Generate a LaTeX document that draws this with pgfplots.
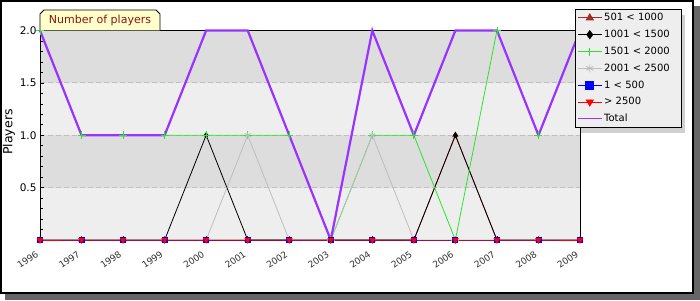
\documentclass[border=0pt]{standalone}
\usepackage{fontspec}
\setmainfont{DejaVu Sans}
\usepackage{pgfplots}
\pgfplotsset{compat=1.18}
\usetikzlibrary{calc}

\definecolor{cBrown}{RGB}{165,42,42}
\definecolor{cGreen}{RGB}{40,230,40}
\definecolor{cGray}{RGB}{190,190,190}
\definecolor{cPurple}{RGB}{153,51,255}
\definecolor{cRed}{RGB}{255,0,0}
\definecolor{cBlue}{RGB}{0,0,255}
\definecolor{bandLight}{RGB}{238,238,238}
\definecolor{bandDark}{RGB}{221,221,221}
\definecolor{titleFill}{RGB}{255,255,204}
\definecolor{titleText}{RGB}{140,20,20}

\begin{document}
\begin{tikzpicture}[x=1pt,y=1pt]
\fill[black!60] (5,0) rectangle (700,294);
\draw[line width=2pt, fill=white] (1,7) rectangle (693,299);
% legend shadow
\fill[black!18] (581,167) rectangle (685,285);
\begin{axis}[
  at={(40pt,60pt)}, anchor=south west,
  scale only axis, width=540pt, height=209.5pt,
  xmin=1996, xmax=2009, ymin=0, ymax=2,
  clip=false,
  axis background/.style={fill=bandLight, path picture={
    \fill[bandDark] ($(path picture bounding box.south west)!0.75!(path picture bounding box.north west)$) rectangle (path picture bounding box.north east);
    \fill[bandDark] ($(path picture bounding box.south west)!0.25!(path picture bounding box.north west)$) rectangle ($(path picture bounding box.south east)!0.5!(path picture bounding box.north east)$);
  }},
  axis line style={black, line width=0.8pt},
  xtick={1996,1997,1998,1999,2000,2001,2002,2003,2004,2005,2006,2007,2008,2009},
  xticklabels={1996,1997,1998,1999,2000,2001,2002,2003,2004,2005,2006,2007,2008,2009},
  ytick={0,0.5,1,1.5,2},
  yticklabels={,0.5,1.0,1.5,2.0},
  minor y tick num=4,
  xtick pos=bottom, ytick pos=left,
  tick align=inside,
  major tick length=4pt, minor tick length=3pt,
  tick style={black, line width=0.6pt},
  ymajorgrids,
  major grid style={dash pattern=on 5pt off 3pt, cGray, line width=0.8pt},
  yticklabel style={font=\fontsize{10.5}{12}\selectfont},
  xticklabel shift=11pt,
  xticklabel style={font=\fontsize{9}{10}\selectfont, text=black!80, rotate=35, anchor=east},
  legend style={at={(rel axis cs:0.9907,1.1026)}, anchor=north west,
    fill=bandLight, draw=black, line width=0.8pt,
    font=\fontsize{10}{12}\selectfont,
    inner sep=2pt, row sep=3.9pt},
  legend cell align=left,
  legend image code/.code={\draw[mark repeat=2, mark phase=2, #1, line width=0.8pt, mark size=4pt] plot coordinates {(0pt,0pt) (12pt,0pt) (24pt,0pt)};},
]
\addplot[cBrown, line width=0.8pt, mark=triangle*, mark size=3pt, mark options={fill=cBrown}] coordinates {
(1996,0) (1997,0) (1998,0) (1999,0) (2000,0) (2001,0) (2002,0) (2003,0) (2004,0) (2005,0) (2006,1) (2007,0) (2008,0) (2009,0)};
\addlegendentry{501 < 1000}
\addplot[black, line width=0.8pt, mark=diamond*, mark size=2.5pt, mark options={fill=black}] coordinates {
(1996,0) (1997,0) (1998,0) (1999,0) (2000,1) (2001,0) (2002,0) (2003,0) (2004,0) (2005,0) (2006,1) (2007,0) (2008,0) (2009,0)};
\addlegendentry{1001 < 1500}
\addplot[cGreen, line width=0.8pt, mark=+, mark size=4pt] coordinates {
(1996,2) (1997,1) (1998,1) (1999,1) (2000,1) (2001,1) (2002,1) (2003,0) (2004,1) (2005,1) (2006,0) (2007,2) (2008,1) (2009,2)};
\addlegendentry{1501 < 2000}
\addplot[cGray, line width=0.8pt, mark=asterisk, mark size=3.5pt] coordinates {
(1996,0) (1997,0) (1998,0) (1999,0) (2000,0) (2001,1) (2002,0) (2003,0) (2004,1) (2005,0) (2006,0) (2007,0) (2008,0) (2009,0)};
\addlegendentry{2001 < 2500\hspace*{8pt}}
\addplot[cBlue, line width=0.8pt, mark=square*, mark size=2.5pt, mark options={fill=cBlue}] coordinates {
(1996,0) (1997,0) (1998,0) (1999,0) (2000,0) (2001,0) (2002,0) (2003,0) (2004,0) (2005,0) (2006,0) (2007,0) (2008,0) (2009,0)};
\addlegendentry{1 < 500}
\addplot[cRed, line width=0.8pt, mark=triangle*, mark size=3pt, mark options={fill=cRed, rotate=180}] coordinates {
(1996,0) (1997,0) (1998,0) (1999,0) (2000,0) (2001,0) (2002,0) (2003,0) (2004,0) (2005,0) (2006,0) (2007,0) (2008,0) (2009,0)};
\addlegendentry{> 2500}
\addplot[cPurple, line width=2.2pt, no marks] coordinates {
(1996,2) (1997,1) (1998,1) (1999,1) (2000,2) (2001,2) (2002,1) (2003,0) (2004,2) (2005,1) (2006,2) (2007,2) (2008,1) (2009,2)};
\addlegendentry{Total}
\end{axis}
\draw[fill=titleFill, line width=0.8pt] (40,269.5) -- (40,286) -- (44,290) -- (156,290) -- (160,286) -- (160,269.5);
\node[text=titleText, font=\fontsize{11}{13}\selectfont] at (100,280) {Number of players};
\node[rotate=90, font=\fontsize{12.5}{14}\selectfont] at (9,168) {Players};
\pgfresetboundingbox
\path[use as bounding box] (0,0) rectangle (700,300);
\end{tikzpicture}
\end{document}
